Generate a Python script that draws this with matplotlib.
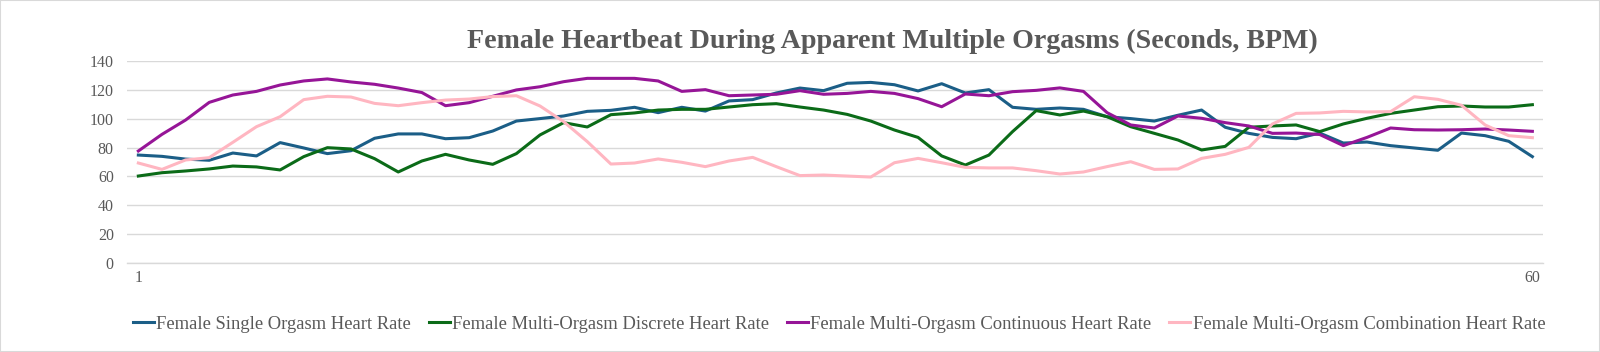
import matplotlib
matplotlib.use("Agg")
import matplotlib.pyplot as plt
from matplotlib.patches import Rectangle

seconds = list(range(1, 61))

single = [74.8, 73.9, 72.0, 71.2, 76.2, 74.2, 83.4, 79.7, 75.8, 77.8,
          86.4, 89.4, 89.4, 86.1, 86.8, 91.4, 98.3, 100.0, 101.8, 105.0,
          105.7, 107.8, 104.1, 107.8, 105.2, 112.2, 113.1, 117.7, 121.1, 119.3,
          124.4, 125.0, 123.4, 119.1, 124.1, 117.7, 120.0, 107.8, 106.4, 107.3,
          106.4, 101.3, 100.0, 98.3, 102.3, 105.9, 94.0, 89.8, 87.0, 86.1,
          90.0, 83.1, 83.8, 81.3, 79.7, 78.1, 90.0, 88.2, 84.3, 73.7]

discrete = [60.3, 62.6, 63.8, 65.2, 67.2, 66.6, 64.5, 73.7, 79.9, 79.0,
            72.3, 63.1, 70.7, 75.3, 71.4, 68.4, 75.8, 88.7, 97.2, 94.2,
            102.7, 103.9, 105.9, 106.4, 106.4, 108.0, 109.6, 110.3, 108.0, 105.9,
            102.9, 98.3, 92.1, 87.0, 74.2, 67.9, 74.8, 91.0, 105.5, 102.5,
            105.2, 101.3, 94.4, 89.8, 85.2, 78.3, 80.8, 94.0, 94.9, 95.6,
            91.0, 96.3, 100.2, 103.6, 105.9, 108.2, 108.7, 108.0, 108.0, 109.6]

continuous = [77.6, 89.1, 99.0, 111.2, 116.3, 118.8, 123.2, 126.0, 127.4, 125.3,
              123.7, 121.1, 118.0, 108.9, 111.0, 115.4, 119.8, 122.0, 125.5, 127.8,
              127.8, 127.8, 126.0, 118.8, 120.0, 115.8, 116.3, 116.8, 119.3, 116.8,
              117.4, 118.8, 117.4, 113.8, 108.2, 117.0, 115.8, 118.6, 119.5, 121.2,
              118.8, 104.1, 95.6, 93.5, 101.8, 100.2, 97.2, 94.9, 89.8, 90.0,
              89.0, 81.3, 87.0, 93.5, 92.3, 92.1, 92.3, 92.8, 92.1, 91.2]

combination = [69.3, 64.9, 71.4, 73.0, 83.6, 94.4, 101.3, 113.1, 115.4, 114.9,
               110.5, 108.9, 111.0, 112.8, 113.5, 115.2, 115.8, 108.7, 97.9, 84.1,
               68.6, 69.3, 72.1, 69.8, 66.8, 70.7, 73.2, 66.8, 60.6, 61.0,
               60.3, 59.6, 69.5, 72.5, 69.5, 66.3, 65.9, 65.9, 64.0, 61.7,
               63.1, 66.8, 70.2, 64.9, 65.2, 72.5, 75.3, 80.1, 96.3, 103.6,
               103.9, 105.0, 104.6, 104.8, 115.1, 113.3, 109.2, 95.6, 88.2, 86.8]

labels = ["Female Single Orgasm Heart Rate",
          "Female Multi-Orgasm Discrete Heart Rate",
          "Female Multi-Orgasm Continuous Heart Rate",
          "Female Multi-Orgasm Combination Heart Rate"]
colors = ["#1b5e87", "#0b6b18", "#961597", "#ffb6c1"]
title = "Female Heartbeat During Apparent Multiple Orgasms (Seconds, BPM)"
yticks = [0, 20, 40, 60, 80, 100, 120, 140]
xtick_vals = [1, 60]

plt.rcParams['font.family'] = ['Liberation Serif', 'DejaVu Serif']
txt = "#595959"

fig = plt.figure(figsize=(16, 3.52), dpi=100)
ax = fig.add_axes([127/1600, 1-263.3/352, (1543-127)/1600, (263.3-60.7)/352])

for series, lab, col in zip([single, discrete, continuous, combination], labels, colors):
    ax.plot(seconds, series, color=col, lw=2.2, label=lab, solid_joinstyle='round')

ax.set_xlim(0.52, 60.45)
ax.set_ylim(0, 140)
ax.set_yticks(yticks)
ax.set_xticks(xtick_vals)
ax.tick_params(axis='y', length=0, pad=9.5, labelsize=11.5, labelcolor=txt)
ax.tick_params(axis='x', length=0, pad=5, labelsize=11.5, labelcolor=txt)
ax.grid(axis='y', color='#d9d9d9', lw=1)
ax.set_axisbelow(True)
for s in ['top', 'right', 'left']:
    ax.spines[s].set_visible(False)
ax.spines['bottom'].set_color('#d9d9d9')
ax.spines['bottom'].set_linewidth(1)

fig.text(0.558, 1-41/352, title, ha='center', va='center', fontsize=20.2,
         fontweight='bold', color=txt)

leg = fig.legend(loc='center', bbox_to_anchor=(0.5245, 1-324/352), ncol=4, frameon=False,
                 fontsize=13.45, handlelength=1.1, handletextpad=0.15, columnspacing=0.95)
for t in leg.get_texts():
    t.set_color(txt)

fig.patches.append(Rectangle((0, 0), 1, 1, transform=fig.transFigure, fill=False,
                             edgecolor='#d9d9d9', lw=1.5))

fig.savefig("out.png", dpi=100)
